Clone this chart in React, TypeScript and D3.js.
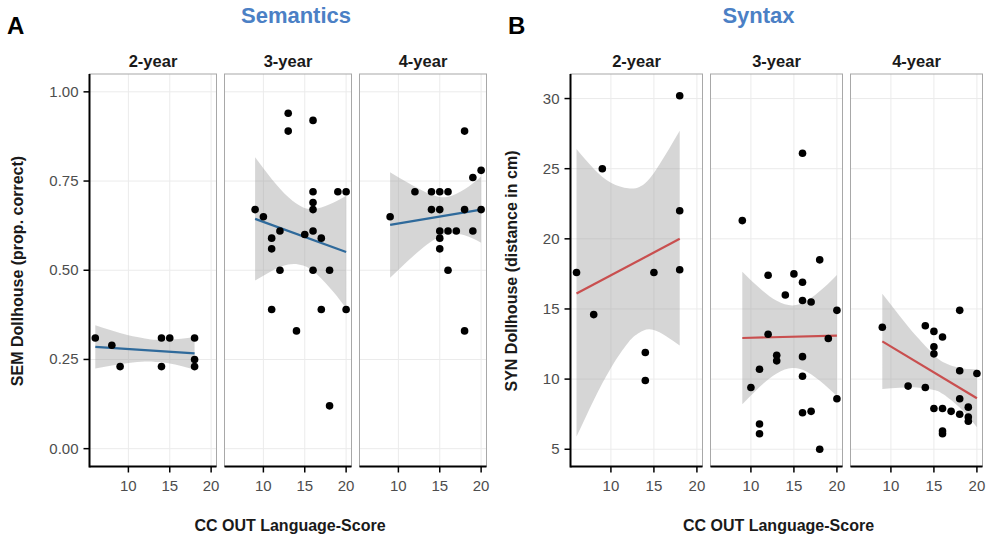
import * as d3 from "d3"

const W = 989
const H = 540
const FONT = "'Liberation Sans', Arial, Helvetica, sans-serif"

const ages = ["2-year", "3-year", "4-year"]
const xTicks = [10, 15, 20]
const semTicks = [0, 0.25, 0.5, 0.75, 1]
const synTicks = [5, 10, 15, 20, 25, 30]

// points: [language score, outcome]
const sem2 = [[6, 0.31], [8, 0.29], [9, 0.23], [14, 0.31], [14, 0.23], [15, 0.31], [18, 0.31], [18, 0.25], [18, 0.23]]
const sem3 = [[9, 0.67], [10, 0.65], [11, 0.59], [11, 0.56], [11, 0.39], [12, 0.61], [12, 0.5], [13, 0.94], [13, 0.89], [14, 0.33], [15, 0.6], [16, 0.92], [16, 0.72], [16, 0.69], [16, 0.67], [16, 0.61], [16, 0.5], [17, 0.59], [17, 0.39], [18, 0.5], [18, 0.12], [19, 0.72], [20, 0.72], [20, 0.39]]
const sem4 = [[9, 0.65], [12, 0.72], [14, 0.72], [14, 0.67], [15, 0.72], [15, 0.67], [15, 0.61], [15, 0.59], [15, 0.56], [16, 0.72], [16, 0.61], [16, 0.5], [17, 0.61], [18, 0.89], [18, 0.67], [18, 0.33], [19, 0.76], [19, 0.61], [20, 0.78], [20, 0.67]]
const syn2 = [[6, 17.6], [8, 14.6], [9, 25.0], [14, 11.9], [14, 9.9], [15, 17.6], [18, 30.2], [18, 22.0], [18, 17.8]]
const syn3 = [[9, 21.3], [10, 9.4], [11, 10.7], [11, 6.8], [11, 6.1], [12, 17.4], [12, 13.2], [13, 11.7], [13, 11.3], [14, 16.0], [15, 17.5], [16, 26.1], [16, 16.9], [16, 15.6], [16, 11.6], [16, 10.2], [16, 7.6], [17, 15.5], [17, 7.7], [18, 18.5], [18, 5.0], [19, 12.9], [20, 14.9], [20, 8.6]]
const syn4 = [[9, 13.7], [12, 9.5], [14, 13.8], [14, 9.4], [15, 13.4], [15, 12.3], [15, 11.8], [15, 7.9], [16, 13.0], [16, 7.9], [16, 6.3], [16, 6.1], [17, 7.7], [18, 14.9], [18, 10.6], [18, 8.6], [18, 7.5], [19, 8.0], [19, 7.3], [19, 7.0], [20, 10.4]]

// lm smoother: [x, lower, fit, upper]
const sem2Fit = [[6, 0.225, 0.285, 0.346], [8, 0.233, 0.282, 0.331], [10, 0.24, 0.279, 0.318], [12, 0.244, 0.276, 0.309], [13.3, 0.243, 0.274, 0.305], [15, 0.239, 0.272, 0.305], [18, 0.222, 0.267, 0.313]]
const sem3Fit = [[9, 0.471, 0.644, 0.817], [11, 0.498, 0.627, 0.756], [13, 0.516, 0.61, 0.705], [14.8, 0.513, 0.595, 0.676], [16.5, 0.488, 0.581, 0.673], [18.5, 0.438, 0.564, 0.69], [20, 0.393, 0.551, 0.709]]
const sem4Fit = [[9, 0.479, 0.627, 0.775], [11, 0.523, 0.635, 0.747], [13, 0.564, 0.643, 0.722], [14.5, 0.588, 0.648, 0.708], [16, 0.602, 0.654, 0.706], [18, 0.598, 0.662, 0.727], [20, 0.577, 0.67, 0.763]]
const syn2Fit = [[6, 5.9, 16.1, 26.4], [8, 8.5, 16.8, 25.0], [10, 10.8, 17.4, 24.0], [12, 12.6, 18.1, 23.6], [13.3, 13.3, 18.5, 23.7], [15, 13.5, 19.1, 24.7], [18, 12.4, 20.0, 27.7]]
const syn3Fit = [[9, 8.2, 12.93, 17.66], [11, 9.43, 12.96, 16.49], [13, 10.4, 12.99, 15.58], [14.8, 10.79, 13.02, 15.25], [16.5, 10.52, 13.05, 15.58], [18.5, 9.63, 13.08, 16.53], [20, 8.78, 13.1, 17.42]]
const syn4Fit = [[9, 9.3, 12.69, 16.08], [11, 9.38, 11.95, 14.52], [13, 9.41, 11.22, 13.03], [15, 9.23, 10.48, 11.73], [16.1, 8.92, 10.06, 11.2], [18, 7.97, 9.38, 10.79], [20, 6.57, 8.64, 10.71]]

const X_DOMAIN = [5.3, 20.65]
const TOP = 74
const BOTTOM = 466.5

type FacetProps = {
  left: number
  width: number
  yDomain: number[]
  yTicks: number[]
  yFmt: (v: number) => string
  pts: number[][]
  band: number[][]
  lineColor: string
  label: string
  showY: boolean
}

function Facet({ left, width, yDomain, yTicks, yFmt, pts, band, lineColor, label, showY }: FacetProps) {
  const x = d3.scaleLinear().domain(X_DOMAIN).range([left, left + width])
  const y = d3.scaleLinear().domain(yDomain).range([BOTTOM, TOP])
  const area = d3
    .area<number[]>()
    .x((d) => x(d[0]))
    .y0((d) => y(d[1]))
    .y1((d) => y(d[3]))
    .curve(d3.curveNatural)
  const line = d3
    .line<number[]>()
    .x((d) => x(d[0]))
    .y((d) => y(d[2]))

  return (
    <g>
      <rect x={left} y={TOP} width={width} height={BOTTOM - TOP} fill="#fff" />
      {xTicks.map((t) => (
        <line key={"gx" + t} x1={x(t)} x2={x(t)} y1={TOP} y2={BOTTOM} stroke="#ebebeb" strokeWidth={1} />
      ))}
      {yTicks.map((t) => (
        <line key={"gy" + t} x1={left} x2={left + width} y1={y(t)} y2={y(t)} stroke="#ebebeb" strokeWidth={1} />
      ))}
      <path d={area(band) ?? ""} fill="#999999" fillOpacity={0.4} />
      <path d={line([band[0], band[band.length - 1]]) ?? ""} fill="none" stroke={lineColor} strokeWidth={2.2} />
      {pts.map((p, i) => (
        <circle key={i} cx={x(p[0])} cy={y(p[1])} r={3.8} fill="#000" />
      ))}
      <rect x={left} y={TOP} width={width} height={BOTTOM - TOP} fill="none" stroke="#a8a8a8" strokeWidth={1} />
      <line x1={left} x2={left + width} y1={BOTTOM} y2={BOTTOM} stroke="#000" strokeWidth={2} />
      {xTicks.map((t) => (
        <g key={"xt" + t}>
          <line x1={x(t)} x2={x(t)} y1={BOTTOM} y2={BOTTOM + 6} stroke="#000" strokeWidth={1.5} />
          <text x={x(t)} y={491} textAnchor="middle" fontSize={15} fill="#4d4d4d">
            {t}
          </text>
        </g>
      ))}
      {showY && (
        <g>
          <line x1={left} x2={left} y1={TOP} y2={BOTTOM + 1} stroke="#000" strokeWidth={2} />
          {yTicks.map((t) => (
            <g key={"yt" + t}>
              <line x1={left - 6} x2={left} y1={y(t)} y2={y(t)} stroke="#000" strokeWidth={1.5} />
              <text x={left - 11} y={y(t) + 5} textAnchor="end" fontSize={15} fill="#4d4d4d">
                {yFmt(t)}
              </text>
            </g>
          ))}
        </g>
      )}
      <text x={left + width / 2} y={67} textAnchor="middle" fontSize={16.5} fontWeight="bold" fill="#1a1a1a">
        {label}
      </text>
    </g>
  )
}

export default function App() {
  const semPts = [sem2, sem3, sem4]
  const semBands = [sem2Fit, sem3Fit, sem4Fit]
  const synPts = [syn2, syn3, syn4]
  const synBands = [syn2Fit, syn3Fit, syn4Fit]
  const aLeft = 89.5
  const aW = 127
  const bLeft = 570.5
  const bW = 132
  const gap = 8
  const fmt2 = d3.format(".2f")
  const fmt0 = d3.format("d")

  return (
    <svg
      width={W}
      height={H}
      style={{ position: "absolute", left: 0, top: 0, background: "#fff" }}
      fontFamily={FONT}
    >
      <rect width={W} height={H} fill="#fff" />
      <text x={7} y={34} fontSize={24} fontWeight="bold" fill="#000">A</text>
      <text x={508} y={34} fontSize={24} fontWeight="bold" fill="#000">B</text>
      <text x={296} y={23} textAnchor="middle" fontSize={22} fontWeight="bold" fill="#4b80c5">
        Semantics
      </text>
      <text x={758.5} y={23} textAnchor="middle" fontSize={22} fontWeight="bold" fill="#4b80c5">
        Syntax
      </text>

      {ages.map((a, i) => (
        <Facet
          key={"sem" + a}
          left={aLeft + i * (aW + gap)}
          width={aW}
          yDomain={[-0.05, 1.05]}
          yTicks={semTicks}
          yFmt={fmt2}
          pts={semPts[i]}
          band={semBands[i]}
          lineColor="#2f6a9b"
          label={a}
          showY={i === 0}
        />
      ))}
      {ages.map((a, i) => (
        <Facet
          key={"syn" + a}
          left={bLeft + i * (bW + gap)}
          width={bW}
          yDomain={[3.77, 31.75]}
          yTicks={synTicks}
          yFmt={fmt0}
          pts={synPts[i]}
          band={synBands[i]}
          lineColor="#c94f4f"
          label={a}
          showY={i === 0}
        />
      ))}

      <text transform="translate(23,271) rotate(-90)" textAnchor="middle" fontSize={16} fontWeight="bold" fill="#1a1a1a">
        SEM Dollhouse (prop. correct)
      </text>
      <text transform="translate(517,271) rotate(-90)" textAnchor="middle" fontSize={16} fontWeight="bold" fill="#1a1a1a">
        SYN Dollhouse (distance in cm)
      </text>
      <text x={290} y={531} textAnchor="middle" fontSize={16} fontWeight="bold" fill="#1a1a1a">
        CC OUT Language-Score
      </text>
      <text x={778.5} y={531} textAnchor="middle" fontSize={16} fontWeight="bold" fill="#1a1a1a">
        CC OUT Language-Score
      </text>
    </svg>
  )
}
